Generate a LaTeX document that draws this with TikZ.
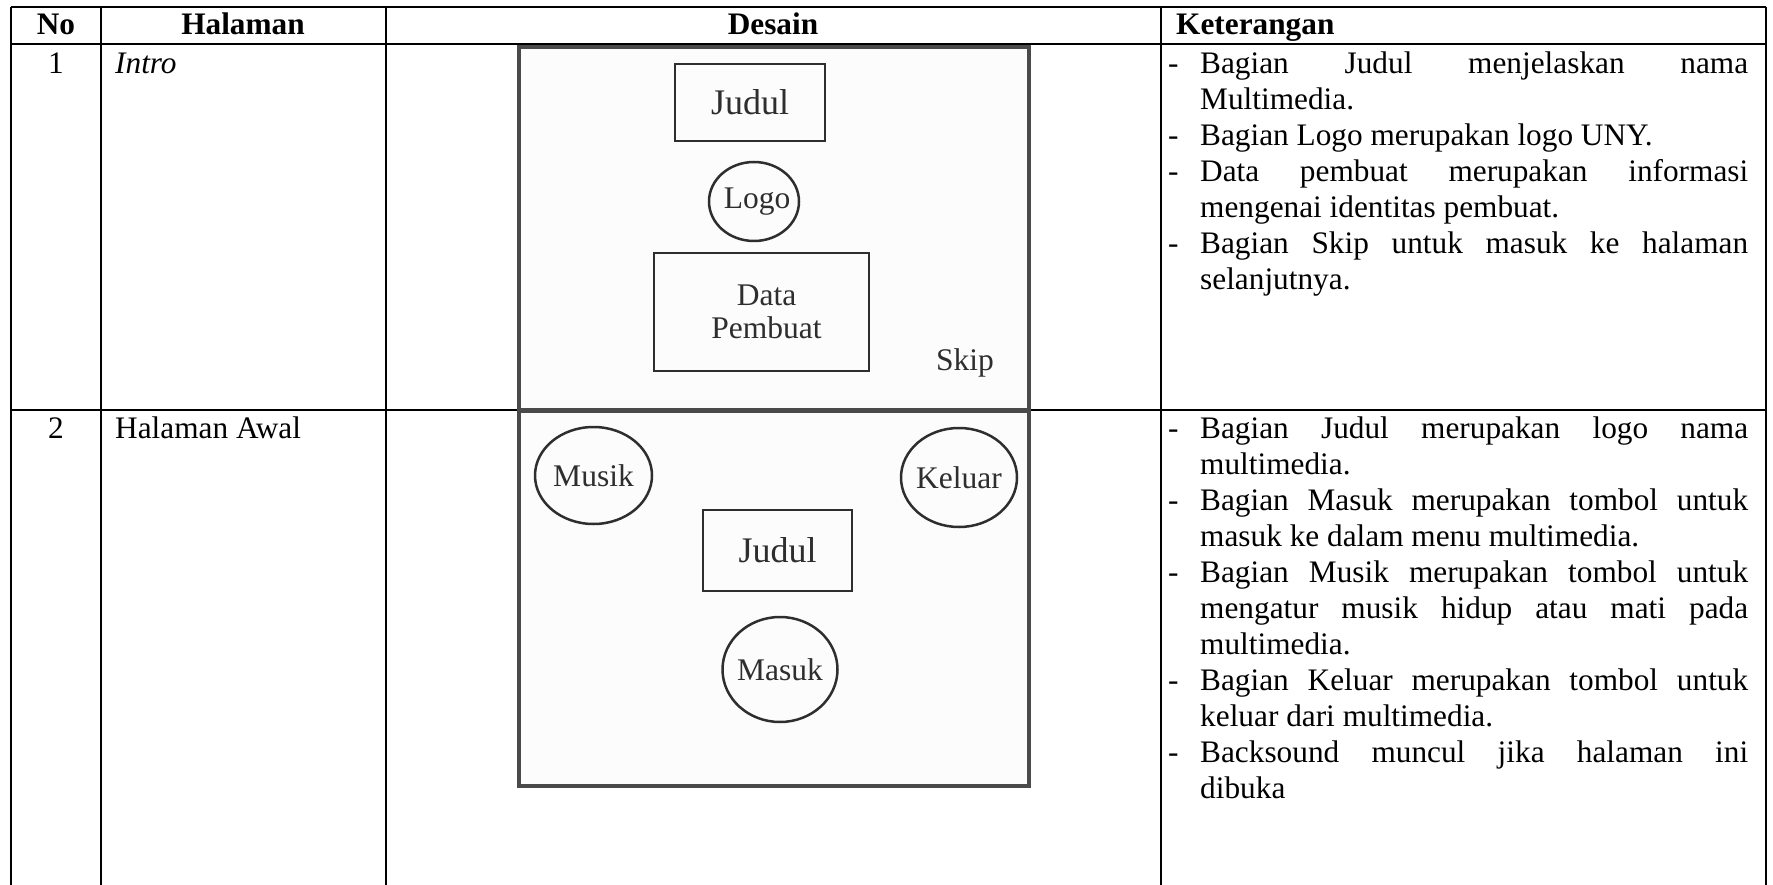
\documentclass[tikz,border=0pt]{standalone}
\usepackage{fontspec}
\setmainfont{Liberation Serif}
\usetikzlibrary{shapes.geometric}
\definecolor{ink}{HTML}{2E2E2E}
\definecolor{framec}{HTML}{4A4A4A}
\definecolor{paper}{HTML}{FCFCFC}
% a justified line of exactly one column width
\newcommand\jline[1]{\makebox[548pt][s]{#1}}

\begin{document}
\begin{tikzpicture}[x=1pt,y=-1pt,
  grid/.style={line width=2pt,black},
  body/.style={font=\fontsize{31.3pt}{36pt}\selectfont, inner sep=0pt, anchor=base west},
  num/.style={font=\fontsize{31.3pt}{36pt}\selectfont, inner sep=0pt, anchor=base},
  head/.style={font=\fontsize{31.3pt}{36pt}\selectfont\bfseries, inner sep=0pt, anchor=base},
  frame/.style={draw=framec, line width=4pt, fill=paper},
  dlab/.style={font=\fontsize{31.5pt}{33pt}\selectfont, text=ink, inner sep=0pt},
  bigdlab/.style={font=\fontsize{36pt}{38pt}\selectfont, text=ink},
  dbox/.style={draw=ink, line width=2.5pt, rectangle, inner sep=0pt},
  dell/.style={draw=ink, line width=2.5pt, ellipse, inner sep=0pt}
]
\useasboundingbox (0,0) rectangle (1773,885);
\fill[white] (0,0) rectangle (1773,885);

% table grid
\draw[grid] (11,7) -- (1766,7);
\draw[grid] (11,44) -- (1766,44);
\draw[grid] (11,410) -- (1766,410);
\foreach \cx in {11,101,386,1161,1766} \draw[grid] (\cx,7) -- (\cx,885);

% header row
\node[head] (hno) at (56,35) {No};
\node[head] (hpage) at (243,35) {Halaman};
\node[head] (hdesign) at (773,35) {Desain};
\node[head, anchor=base west] (hnote) at (1176,35) {Keterangan};

% row 1 : intro
\node[num] (n1) at (56,74) {1};
\node[body, font=\fontsize{31.3pt}{36pt}\selectfont\itshape] (p1) at (115,74) {Intro};

\node[body] (d1a) at (1168,74) {-};
\node[body] (k1a) at (1200,74) {\jline{Bagian Judul menjelaskan nama}};
\node[body] (k1b) at (1200,110) {Multimedia.};
\node[body] (d1b) at (1168,146) {-};
\node[body] (k1c) at (1200,146) {Bagian Logo merupakan logo UNY.};
\node[body] (d1c) at (1168,182) {-};
\node[body] (k1d) at (1200,182) {\jline{Data pembuat merupakan informasi}};
\node[body] (k1e) at (1200,218) {mengenai identitas pembuat.};
\node[body] (d1d) at (1168,254) {-};
\node[body] (k1f) at (1200,254) {\jline{Bagian Skip untuk masuk ke halaman}};
\node[body] (k1g) at (1200,290) {selanjutnya.};

% row 2 : halaman awal
\node[num] (n2) at (56,438) {2};
\node[body] (p2) at (115,438) {Halaman Awal};

\node[body] (d2a) at (1168,438) {-};
\node[body] (k2a) at (1200,438) {\jline{Bagian Judul merupakan logo nama}};
\node[body] (k2b) at (1200,474) {multimedia.};
\node[body] (d2b) at (1168,510) {-};
\node[body] (k2c) at (1200,510) {\jline{Bagian Masuk merupakan tombol untuk}};
\node[body] (k2d) at (1200,546) {masuk ke dalam menu multimedia.};
\node[body] (d2c) at (1168,582) {-};
\node[body] (k2e) at (1200,582) {\jline{Bagian Musik merupakan tombol untuk}};
\node[body] (k2f) at (1200,618) {\jline{mengatur musik hidup atau mati pada}};
\node[body] (k2g) at (1200,654) {multimedia.};
\node[body] (d2d) at (1168,690) {-};
\node[body] (k2h) at (1200,690) {\jline{Bagian Keluar merupakan tombol untuk}};
\node[body] (k2i) at (1200,726) {keluar dari multimedia.};
\node[body] (d2e) at (1168,762) {-};
\node[body] (k2j) at (1200,762) {\jline{Backsound muncul jika halaman ini}};
\node[body] (k2k) at (1200,798) {dibuka};

% sketch of the intro screen
\draw[frame] (519,47) rectangle (1029,410);
\node[dbox, minimum width=150, minimum height=77, bigdlab] (title1) at (750,102.5) {Judul};
\node[dell, minimum width=90, minimum height=79, label={[dlab, xshift=3]center:Logo}] (logo) at (754,201.5) {};
\node[dbox, minimum width=215, minimum height=118,
      label={[dlab, align=center, xshift=5]center:Data\\Pembuat}] (maker) at (761.5,312) {};
\node[dlab] (skip) at (965,363) {Skip};

% sketch of the start screen
\draw[frame] (519,411) rectangle (1029,786);
\node[dell, minimum width=117, minimum height=97, label={[dlab]center:Musik}] (music) at (593.5,475.5) {};
\node[dell, minimum width=116, minimum height=99, label={[dlab]center:Keluar}] (quit) at (959,477.5) {};
\node[dbox, minimum width=149, minimum height=81, bigdlab] (title2) at (777.5,550.5) {Judul};
\node[dell, minimum width=115, minimum height=105, label={[dlab]center:Masuk}] (enter) at (780,669.5) {};
\end{tikzpicture}
\end{document}
